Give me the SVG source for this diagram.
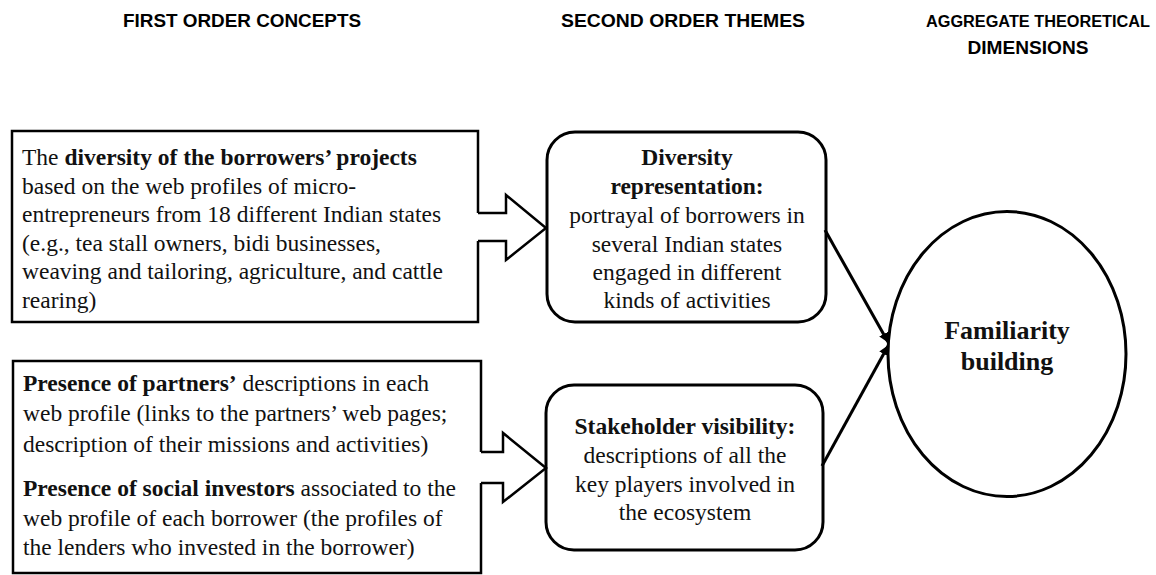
<svg xmlns="http://www.w3.org/2000/svg" width="1156" height="575" viewBox="0 0 1156 575">
<style>
.hdr{font-family:"Liberation Sans",Arial,sans-serif;font-weight:bold;font-size:18px;fill:#000}
.t{font-family:"Liberation Serif","Times New Roman",serif;font-size:23.5px;fill:#111}
.b{font-weight:bold}
.box{fill:none;stroke:#000;stroke-width:2.5}
.rbox{fill:#fff;stroke:#000;stroke-width:3}
.conn{fill:none;stroke:#000;stroke-width:3}
.blk{fill:none;stroke:#000;stroke-width:2.5;stroke-linejoin:miter}
</style>
<defs>
<marker id="ah" markerWidth="10" markerHeight="10" refX="9" refY="5" orient="auto" markerUnits="userSpaceOnUse">
<path d="M0,0 L10,5 L0,10 z" fill="#000"/>
</marker>
</defs>
<rect width="1156" height="575" fill="#fff"/>
<g id="headers">
<text class="hdr" x="242" y="27" text-anchor="middle" textLength="238" lengthAdjust="spacingAndGlyphs">FIRST ORDER CONCEPTS</text>
<text class="hdr" x="683" y="27" text-anchor="middle" textLength="244" lengthAdjust="spacingAndGlyphs">SECOND ORDER THEMES</text>
<text class="hdr" x="926" y="27" style="font-size:16px" textLength="224" lengthAdjust="spacingAndGlyphs">AGGREGATE THEORETICAL</text>
<text class="hdr" x="1028" y="54" text-anchor="middle" textLength="121" lengthAdjust="spacingAndGlyphs">DIMENSIONS</text>
</g>
<g id="concept1">
<path class="box" d="M478,213 V131 H12 V322 H478 V241"/>
<text class="t" x="22" y="165">The <tspan class="b">diversity of the borrowers’ projects</tspan></text>
<text class="t" x="22" y="193.5">based on the web profiles of micro-</text>
<text class="t" x="22" y="222">entrepreneurs from 18 different Indian states</text>
<text class="t" x="22" y="250.5">(e.g., tea stall owners, bidi businesses,</text>
<text class="t" x="22" y="279">weaving and tailoring, agriculture, and cattle</text>
<text class="t" x="22" y="308">rearing)</text>
</g>
<g id="concept2">
<path class="box" d="M481,452 V361 H13 V573 H481 V483"/>
<text class="t" x="23" y="391"><tspan class="b">Presence of partners’</tspan> descriptions in each</text>
<text class="t" x="23" y="421">web profile (links to the partners’ web pages;</text>
<text class="t" x="23" y="452">description of their missions and activities)</text>
<text class="t" x="23" y="496"><tspan class="b">Presence of social investors</tspan> associated to the</text>
<text class="t" x="23" y="526">web profile of each borrower (the profiles of</text>
<text class="t" x="23" y="555">the lenders who invested in the borrower)</text>
</g>
<g id="theme1">
<rect class="rbox" x="547" y="132" width="279" height="190" rx="28" ry="28"/>
<text class="t" text-anchor="middle" x="687" y="165"><tspan class="b">Diversity</tspan></text>
<text class="t" text-anchor="middle" x="687" y="194"><tspan class="b">representation:</tspan></text>
<text class="t" text-anchor="middle" x="687" y="223">portrayal of borrowers in</text>
<text class="t" text-anchor="middle" x="687" y="252">several Indian states</text>
<text class="t" text-anchor="middle" x="687" y="280">engaged in different</text>
<text class="t" text-anchor="middle" x="687" y="308">kinds of activities</text>
</g>
<g id="theme2">
<rect class="rbox" x="546" y="385" width="277" height="165" rx="28" ry="28"/>
<text class="t" text-anchor="middle" x="685" y="434"><tspan class="b">Stakeholder visibility:</tspan></text>
<text class="t" text-anchor="middle" x="685" y="463">descriptions of all the</text>
<text class="t" text-anchor="middle" x="685" y="492">key players involved in</text>
<text class="t" text-anchor="middle" x="685" y="520">the ecosystem</text>
</g>
<g id="dimension">
<ellipse cx="1007" cy="354" rx="119" ry="142.5" fill="#fff" stroke="#000" stroke-width="3"/>
<text class="t b" text-anchor="middle" x="1007" y="339" style="font-size:26px">Familiarity</text>
<text class="t b" text-anchor="middle" x="1007" y="370" style="font-size:26px">building</text>
</g>
<g id="connectors">
<path class="blk" d="M478,213 H506 V195 L546,228 L506,260 V241 H478"/>
<path class="blk" d="M481,452 H503 V433 L546,468 L503,502 V483 H481"/>
<line class="conn" x1="825" y1="230" x2="888" y2="342" marker-end="url(#ah)"/>
<line class="conn" x1="822" y1="466" x2="888" y2="346" marker-end="url(#ah)"/>
</g>
</svg>
